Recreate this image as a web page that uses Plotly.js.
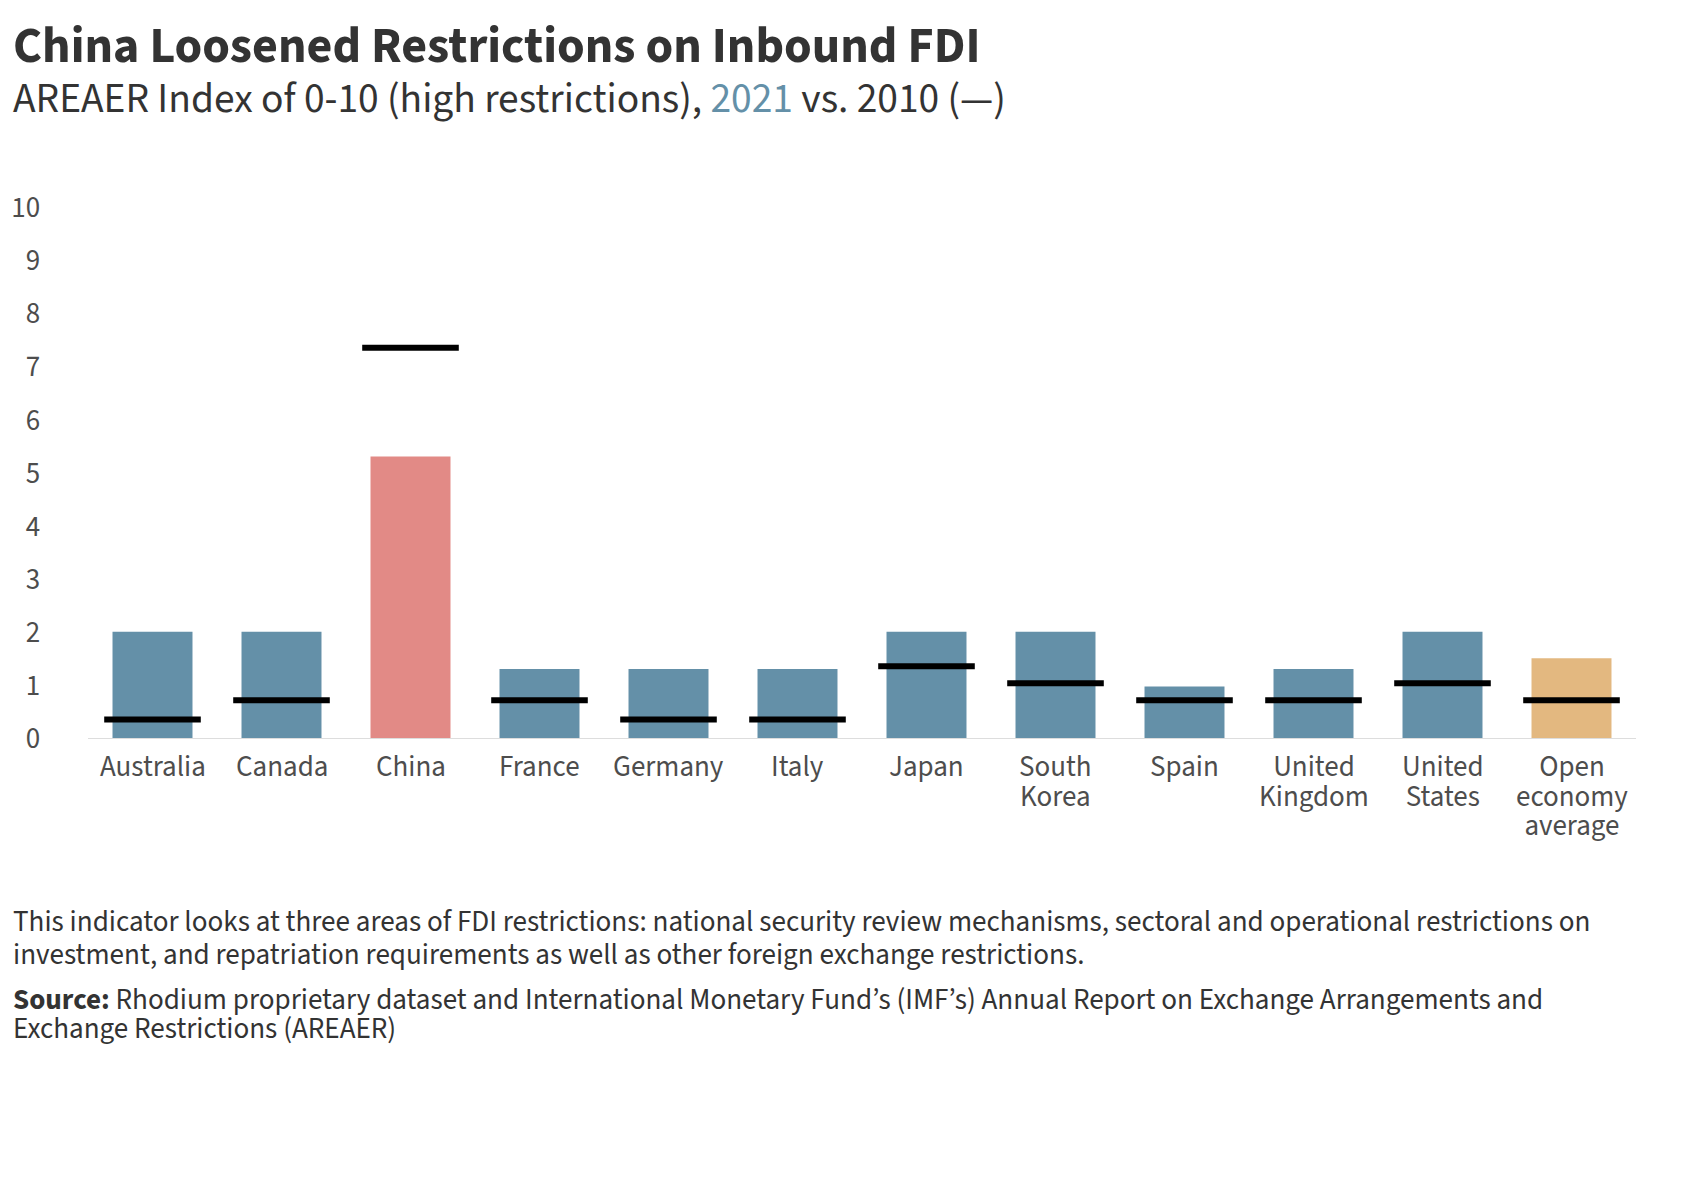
<!DOCTYPE html>
<html>
<head>
<meta charset="utf-8">
<script src="https://cdn.plot.ly/plotly-3.0.1.min.js"></script>
<style>
  html, body { margin: 0; padding: 0; background: #ffffff; }
  #chart { width: 1695px; height: 1190px; }
</style>
</head>
<body>
<div id="chart"></div>
<script>
// ---- Data ----
const categories = ["Australia", "Canada", "China", "France", "Germany", "Italy", "Japan",
  "South Korea", "Spain", "United Kingdom", "United States", "Open economy average"];
const tickLabels = ["Australia", "Canada", "China", "France", "Germany", "Italy", "Japan",
  "South<br>Korea", "Spain", "United<br>Kingdom", "United<br>States", "Open<br>economy<br>average"];
const values2021 = [2.0, 2.0, 5.3, 1.3, 1.3, 1.3, 2.0, 2.0, 0.97, 1.3, 2.0, 1.5];
const values2010 = [0.35, 0.71, 7.35, 0.71, 0.35, 0.35, 1.35, 1.03, 0.71, 0.71, 1.03, 0.71];
const yTicks = [0, 1, 2, 3, 4, 5, 6, 7, 8, 9, 10];

// ---- Styles ----
const FONT = "'Source Sans Pro', 'Source Sans 3', Lato, 'Noto Sans', sans-serif";
const BLUE = "#6490a8", RED = "#e28a86", SAND = "#e3b880";
const barColors = categories.map(c => c === "China" ? RED : (c === "Open economy average" ? SAND : BLUE));

// Plot area in pixels
const W = 1695, H = 1190;
const M = { l: 88, r: 59, t: 207, b: 452 };
const pw = W - M.l - M.r, ph = H - M.t - M.b;
const px = x => (x - M.l) / pw;          // pixel x -> paper x
const py = y => (H - M.b - y) / ph;      // pixel y -> paper y

// Multi-line text with tight line spacing: the annotation font size sets the
// line step (1.3em), the inner span sets the glyph size.
const tight = (lines, glyphPx) => lines.map(l => "<span style='font-size:" + glyphPx + "px'>" + l + "</span>").join("<br>");

const traces = [
  {
    type: "bar",
    x: categories,
    y: values2021,
    width: 0.62,
    marker: { color: barColors, line: { width: 0 } },
    hoverinfo: "skip",
    showlegend: false
  },
  {
    type: "scatter",
    mode: "markers",
    x: categories,
    y: values2010,
    marker: { symbol: "line-ew", size: 69, color: "#000000", line: { color: "#000000", width: 6 } },
    hoverinfo: "skip",
    showlegend: false,
    cliponaxis: false
  }
];

// Category labels as annotations (one per category)
const firstLineY = 767, labelStep = 29.5;
const labelAnnotations = categories.map((c, i) => {
  const lines = tickLabels[i].split("<br>");
  return {
    xref: "x", yref: "paper", x: c,
    y: py(firstLineY + labelStep * (lines.length - 1) / 2),
    xanchor: "center", yanchor: "middle", showarrow: false, align: "center",
    text: tight(lines, 29),
    font: { size: labelStep / 1.3, color: "#4d4d4d", family: FONT }
  };
});

const noteText = [
  "This indicator looks at three areas of FDI restrictions: national security review mechanisms, sectoral and operational restrictions on",
  "investment, and repatriation requirements as well as other foreign exchange restrictions."
];
const sourceText = [
  "<b>Source:</b> Rhodium proprietary dataset and International Monetary Fund’s (IMF’s) Annual Report on Exchange Arrangements and",
  "Exchange Restrictions (AREAER)"
];

const layout = {
  width: W, height: H,
  margin: M,
  paper_bgcolor: "#ffffff",
  plot_bgcolor: "#ffffff",
  font: { family: FONT, color: "#4a4a4a" },
  showlegend: false,
  hovermode: false,
  xaxis: {
    type: "category",
    range: [-0.5, categories.length - 0.5],
    showticklabels: false,
    ticks: "",
    showline: true, linecolor: "#dddddd", linewidth: 1,
    showgrid: false, zeroline: false,
    fixedrange: true
  },
  yaxis: {
    range: [0, 10],
    tickmode: "array",
    tickvals: yTicks,
    ticktext: yTicks.map(String),
    tickfont: { size: 29, color: "#4d4d4d", family: FONT },
    ticks: "outside", ticklen: 41, tickcolor: "rgba(0,0,0,0)",
    showline: false, showgrid: false, zeroline: false,
    fixedrange: true
  },
  annotations: [
    {
      xref: "paper", yref: "paper", x: px(11), y: py(47), xanchor: "left", yanchor: "middle",
      showarrow: false, align: "left",
      text: "<b>China Loosened Restrictions on Inbound FDI</b>",
      font: { size: 50, color: "#333333", family: FONT }
    },
    {
      xref: "paper", yref: "paper", x: px(11), y: py(99), xanchor: "left", yanchor: "middle",
      showarrow: false, align: "left",
      text: "AREAER Index of 0-10 (high restrictions), <span style='color:" + BLUE + "'>2021</span> vs. 2010 (—)",
      font: { size: 41.5, color: "#333333", family: FONT }
    },
    {
      xref: "paper", yref: "paper", x: px(11), y: py(938.5), xanchor: "left", yanchor: "middle",
      showarrow: false, align: "left",
      text: tight(noteText, 29.1),
      font: { size: 33 / 1.3, color: "#333333", family: FONT }
    },
    {
      xref: "paper", yref: "paper", x: px(11), y: py(1014.5), xanchor: "left", yanchor: "middle",
      showarrow: false, align: "left",
      text: tight(sourceText, 29.1),
      font: { size: 29 / 1.3, color: "#333333", family: FONT }
    }
  ].concat(labelAnnotations)
};

Plotly.newPlot("chart", traces, layout, { displayModeBar: false, staticPlot: true });
</script>
</body>
</html>
